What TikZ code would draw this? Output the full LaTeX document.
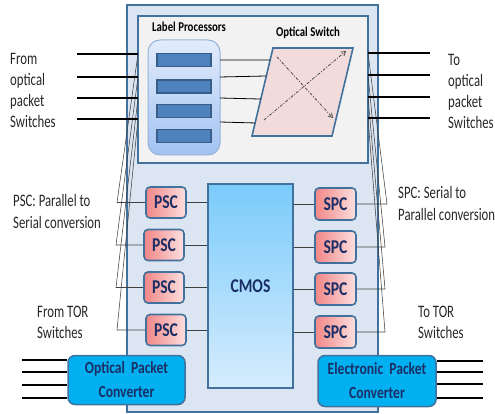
\documentclass[tikz,border=0pt]{standalone}
\usepackage{fontspec}
\setmainfont{Carlito}[FakeStretch=0.73]
\newfontfamily\headfont{Carlito}[FakeStretch=0.8]
\usetikzlibrary{arrows.meta,calc}

\definecolor{frame}{HTML}{41719C}
\definecolor{outerfill}{HTML}{DCE6F2}
\definecolor{innerfill}{HTML}{F2F2F2}
\definecolor{navy}{HTML}{1B2F66}
\definecolor{txt}{HTML}{262626}
\definecolor{barfill}{HTML}{4F81BD}
\definecolor{barline}{HTML}{385D8A}
\definecolor{switchfill}{HTML}{F2DCDB}
\definecolor{convfill}{HTML}{00B0F0}
\definecolor{lpline}{HTML}{95B3D7}
\definecolor{lptop}{HTML}{E2ECFC}
\definecolor{lpbot}{HTML}{A3C2F2}
\definecolor{convL}{HTML}{F28686}
\definecolor{convR}{HTML}{FDE0E0}
\definecolor{cmostop}{HTML}{7ACBFB}
\definecolor{cmosbot}{HTML}{D6ECFD}
\definecolor{wire}{HTML}{404040}

\tikzset{
  lbl/.style={anchor=base west, inner sep=0pt, text=txt, font=\fontsize{17.5}{20}\selectfont},
  title/.style={anchor=base, inner sep=0pt, text=black, font=\headfont\fontsize{13.5}{16}\selectfont\bfseries},
  frame box/.style={draw=frame, line width=1.6pt, inner sep=0pt},
  bar/.style={draw=barline, line width=1.1pt, fill=barfill, minimum width=54pt, minimum height=13pt, inner sep=0pt},
  conv/.style={draw=frame, line width=1.6pt, rounded corners=4pt, left color=convL, right color=convR,
    minimum width=40pt, minimum height=31pt, inner sep=0pt, text=navy, font=\headfont\fontsize{19.5}{22}\selectfont\bfseries},
  pktconv/.style={draw=frame, line width=1.5pt, rounded corners=7pt, fill=convfill, inner sep=0pt,
    align=center, text=navy, font=\headfont\fontsize{17}{24}\selectfont\bfseries},
  fat/.style={line width=2.6pt, black},
  thinwire/.style={line width=0.55pt, wire},
  link/.style={line width=0.8pt, wire},
  cross/.style={line width=0.8pt, black!70, dash pattern=on 3pt off 1.5pt on 1pt off 1.5pt,
    -{Straight Barb[length=4pt,width=5pt]}}
}

\begin{document}
\begin{tikzpicture}[x=1pt,y=-1pt]
\useasboundingbox (0,0) rectangle (495,414);

% outer module and optical-switch compartment
\node[frame box, fill=outerfill, minimum width=251pt, minimum height=407pt] (outer) at (252.5,208.5) {};
\node[frame box, fill=innerfill, minimum width=230pt, minimum height=147pt] (inner) at (253,89.5) {};

% label processors
\node[title] (lptitle) at (189,32) {Label Processors};
\node[draw=lpline, line width=1pt, rounded corners=12pt, top color=lptop, bottom color=lpbot,
      minimum width=72pt, minimum height=115pt, inner sep=0pt] (lp) at (184,97.5) {};
\node[bar] (b1) at (184,60) {};
\node[bar] (b2) at (184,86.5) {};
\node[bar] (b3) at (184,111) {};
\node[bar] (b4) at (184,136) {};

% optical switch fabric
\node[title] (swtitle) at (308,37) {Optical Switch};
\coordinate (swTL) at (273,48);
\coordinate (swTR) at (353,48);
\coordinate (swBR) at (332,136);
\coordinate (swBL) at (252,136);
\draw[draw=frame, line width=1.6pt, fill=switchfill, line join=miter] (swTL) -- (swTR) -- (swBR) -- (swBL) -- cycle;
\coordinate (xa1) at (277,57);
\coordinate (xa2) at (333,118);
\coordinate (xb1) at (264,120);
\coordinate (xb2) at (346,51);
\draw[cross] (xa1) -- (xa2);
\draw[cross] (xb1) -- (xb2);

% label processor to switch links
\coordinate (lo1) at (220,60);
\coordinate (lo2) at (220,77);
\coordinate (lo3) at (220,98);
\coordinate (lo4) at (220,122);
\coordinate (si1) at ($(swTL)!0.136!(swBL)$);
\coordinate (si2) at ($(swTL)!0.318!(swBL)$);
\coordinate (si3) at ($(swTL)!0.580!(swBL)$);
\coordinate (si4) at ($(swTL)!0.852!(swBL)$);
\foreach \i in {1,...,4} \draw[line width=0.8pt, black] (lo\i) -- (si\i);

% electronic core
\node[draw=frame, line width=1.6pt, top color=cmostop, bottom color=cmosbot, minimum width=85pt,
      minimum height=204pt, inner sep=0pt, text=navy, font=\headfont\fontsize{19.5}{22}\selectfont\bfseries] (cmos) at (250.5,286) {CMOS};

% parallel/serial converters
\node[conv] (p1) at (166,202.5) {PSC};
\node[conv] (p2) at (164,245) {PSC};
\node[conv] (p3) at (164,287.5) {PSC};
\node[conv] (p4) at (166,330) {PSC};
\node[conv, minimum width=41pt, minimum height=32pt] (s1) at (335.5,204) {SPC};
\node[conv, minimum width=41pt, minimum height=32pt] (s2) at (335.5,247) {SPC};
\node[conv, minimum width=41pt, minimum height=32pt] (s3) at (335.5,289) {SPC};
\node[conv, minimum width=41pt, minimum height=32pt] (s4) at (335.5,332) {SPC};

\foreach \i in {1,...,4} {
  \draw[link] (p\i.east) -- (p\i.east -| cmos.west);
  \draw[link] (s\i.west -| cmos.east) -- (s\i.west);
}

% optical ports of the switch compartment
\coordinate (iL1) at (138,54);  \coordinate (oL1) at (77,54);
\coordinate (iL2) at (138,77);  \coordinate (oL2) at (77,77);
\coordinate (iL3) at (138,98);  \coordinate (oL3) at (77,98);
\coordinate (iL4) at (138,119); \coordinate (oL4) at (77,119);
\coordinate (iR1) at (368,53);  \coordinate (oR1) at (430,53);
\coordinate (iR2) at (368,75);  \coordinate (oR2) at (430,75);
\coordinate (iR3) at (368,97);  \coordinate (oR3) at (430,97);
\coordinate (iR4) at (368,118); \coordinate (oR4) at (430,118);

% fan-out wires down to the converters
\coordinate (kL1) at (117,202.5);
\coordinate (kL2) at (116,245);
\coordinate (kL3) at (116,287.5);
\coordinate (kL4) at (117,330);
\coordinate (kR1) at (387,204);
\coordinate (kR2) at (385,247);
\coordinate (kR3) at (385,289);
\coordinate (kR4) at (385,332);
\foreach \i in {1,...,4} {
  \draw[thinwire] (iL\i) -- (kL\i) -- (p\i.west);
  \draw[thinwire] (iR\i) -- (kR\i) -- (s\i.east);
}
\foreach \i in {1,...,4} {
  \draw[fat] (oL\i) -- (iL\i);
  \draw[fat] (iR\i) -- (oR\i);
}

% packet converters
\node[pktconv, minimum width=117pt, minimum height=49pt] (opc) at (126.5,380) {Optical\hspace{3pt} Packet\\Converter};
\node[pktconv, minimum width=118pt, minimum height=51pt] (epc) at (377,381) {Electronic\hspace{3pt} Packet\\Converter};
\coordinate (cl1) at (22,360); \coordinate (cl2) at (22,372);
\coordinate (cl3) at (22,385); \coordinate (cl4) at (22,398);
\coordinate (cr1) at (483,361); \coordinate (cr2) at (483,372);
\coordinate (cr3) at (483,384); \coordinate (cr4) at (483,398);
\foreach \i in {1,...,4} {
  \draw[fat] (cl\i) -- (cl\i -| opc.west);
  \draw[fat] (cr\i -| epc.east) -- (cr\i);
}

% side labels
\node[lbl] (tl1) at (10,65) {From};
\node[lbl] (tl2) at (10,86) {optical};
\node[lbl] (tl3) at (10,107) {packet};
\node[lbl] (tl4) at (10,128) {Switches};
\node[lbl] (tr1) at (448,66) {To};
\node[lbl] (tr2) at (448,87) {optical};
\node[lbl] (tr3) at (448,108) {packet};
\node[lbl] (tr4) at (448,129) {Switches};
\node[lbl] (pscA) at (13,207) {PSC: Parallel to};
\node[lbl] (pscB) at (13,228) {Serial conversion};
\node[lbl] (torA) at (37,317) {From TOR};
\node[lbl] (torB) at (37,338) {Switches};
\node[lbl] (spcA) at (398,199) {SPC: Serial to};
\node[lbl] (spcB) at (398,221) {Parallel conversion};
\node[lbl] (torC) at (418,317) {To TOR};
\node[lbl] (torD) at (418,338) {Switches};
\end{tikzpicture}
\end{document}
